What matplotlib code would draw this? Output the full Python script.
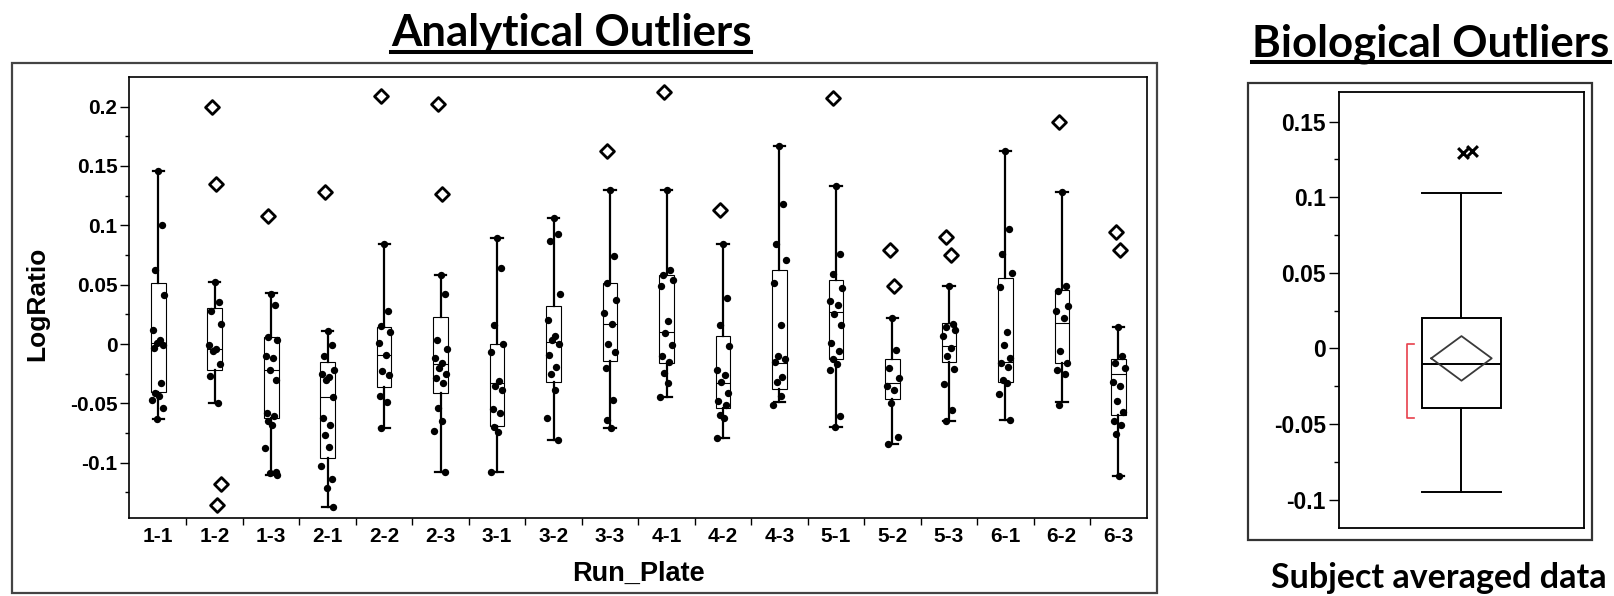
import matplotlib
matplotlib.use("Agg")
import matplotlib.pyplot as plt
import numpy as np
from matplotlib.lines import Line2D
from matplotlib.patches import Rectangle

# --- Analytical outliers: per Run_Plate box statistics (LogRatio) ---
RUN_PLATE = ["1-1", "1-2", "1-3", "2-1", "2-2", "2-3", "3-1", "3-2", "3-3",
             "4-1", "4-2", "4-3", "5-1", "5-2", "5-3", "6-1", "6-2", "6-3"]
Q1 = [-0.040, -0.022, -0.0625, -0.096, -0.036, -0.0416, -0.069, -0.032, -0.014,
      -0.016, -0.054, -0.038, -0.0125, -0.0465, -0.0154, -0.032, -0.016, -0.060]
MEDIAN = [0.001, -0.004, -0.022, -0.045, -0.009, -0.017, -0.033, 0.002, 0.017,
          0.010, -0.033, -0.016, 0.027, -0.033, -0.0015, -0.015, 0.018, -0.025]
Q3 = [0.051, 0.030, 0.006, -0.015, 0.0145, 0.023, 0.000, 0.032, 0.051,
      0.058, 0.007, 0.0625, 0.054, -0.0125, 0.018, 0.056, 0.0456, -0.013]
WHISK_LO = [-0.063, -0.050, -0.110, -0.137, -0.071, -0.108, -0.108, -0.081, -0.071,
            -0.045, -0.079, -0.049, -0.070, -0.084, -0.065, -0.064, -0.049, -0.111]
WHISK_HI = [0.146, 0.052, 0.043, 0.011, 0.084, 0.058, 0.089, 0.106, 0.130,
            0.130, 0.084, 0.167, 0.133, 0.022, 0.049, 0.163, 0.128, 0.0145]

POINTS = [
    [0.146, 0.100, 0.062, 0.041, 0.012, 0.003, 0.001, -0.001, -0.003, -0.033,
     -0.041, -0.044, -0.047, -0.054, -0.063],
    [0.052, 0.035, 0.028, 0.017, -0.001, -0.004, -0.006, -0.017, -0.027, -0.050],
    [0.042, 0.033, 0.006, 0.003, -0.010, -0.012, -0.022, -0.030, -0.058, -0.061,
     -0.065, -0.068, -0.088, -0.108, -0.109, -0.110],
    [0.011, -0.001, -0.010, -0.022, -0.025, -0.028, -0.030, -0.045, -0.0625, -0.068,
     -0.077, -0.087, -0.103, -0.114, -0.121, -0.137],
    [0.084, 0.028, 0.015, 0.010, 0.001, -0.009, -0.023, -0.026, -0.044, -0.049, -0.071],
    [0.058, 0.042, 0.003, -0.004, -0.012, -0.016, -0.020, -0.025, -0.029, -0.033,
     -0.054, -0.065, -0.073, -0.108],
    [0.089, 0.064, 0.016, 0.000, -0.007, -0.031, -0.035, -0.039, -0.055, -0.058,
     -0.070, -0.074, -0.108],
    [0.106, 0.093, 0.087, 0.042, 0.020, 0.007, 0.003, 0.000, -0.009, -0.019,
     -0.025, -0.039, -0.062, -0.081],
    [0.130, 0.074, 0.051, 0.037, 0.026, 0.017, 0.000, -0.007, -0.020, -0.047,
     -0.064, -0.071],
    [0.130, 0.0625, 0.058, 0.054, 0.049, 0.019, 0.009, -0.001, -0.010, -0.015,
     -0.024, -0.033, -0.045],
    [0.084, 0.039, 0.016, -0.002, -0.022, -0.026, -0.032, -0.041, -0.048, -0.051,
     -0.060, -0.0625, -0.079],
    [0.167, 0.118, 0.084, 0.071, 0.051, 0.016, -0.010, -0.013, -0.015, -0.028,
     -0.032, -0.044, -0.051],
    [0.133, 0.076, 0.059, 0.047, 0.036, 0.033, 0.025, 0.016, 0.001, -0.006,
     -0.013, -0.017, -0.022, -0.061, -0.070],
    [0.022, -0.005, -0.020, -0.029, -0.035, -0.039, -0.050, -0.078, -0.084],
    [0.049, 0.017, 0.0145, 0.012, 0.007, -0.003, -0.010, -0.021, -0.034, -0.056, -0.065],
    [0.163, 0.0965, 0.0756, 0.060, 0.048, 0.010, -0.001, -0.012, -0.016, -0.019,
     -0.030, -0.033, -0.042, -0.064],
    [0.128, 0.049, 0.045, 0.032, 0.028, 0.022, -0.006, -0.016, -0.022, -0.025, -0.051],
    [0.0145, -0.010, -0.016, -0.020, -0.032, -0.035, -0.048, -0.057, -0.065, -0.068,
     -0.076, -0.111],
]
OUTLIERS = [
    [], [0.200, 0.135, -0.118, -0.136], [0.108], [0.128], [0.209], [0.202, 0.126],
    [], [], [0.163], [0.212], [0.1125], [], [0.207], [0.079, 0.0485], [0.090, 0.075],
    [], [0.187], [0.0945, 0.079],
]

# --- Biological outliers: subject averaged data ---
BIO_Q1, BIO_MEDIAN, BIO_Q3 = -0.0393, -0.0104, 0.0198
BIO_WHISK_LO, BIO_WHISK_HI = -0.0948, 0.1025
BIO_MEAN, BIO_CI_LO, BIO_CI_HI = -0.0066, -0.0214, 0.0081
BIO_SHORTEST_HALF = [-0.0463, 0.0026]
BIO_OUTLIERS = [0.129, 0.1305]

# jitter pattern (x offsets in category units), purely cosmetic
JITTER = [0.0, 0.07, -0.06, 0.11, -0.1, 0.03, -0.03, 0.09, -0.08, 0.05,
          -0.05, 0.02, -0.11, 0.08, -0.02, 0.1]
OUT_JITTER = [-0.05, 0.03, 0.12, 0.04]
BIO_OUT_JITTER = [0.015, 0.088]

TICK_FONT = ["Liberation Sans", "DejaVu Sans"]
TITLE_FONT = ["Lato", "DejaVu Sans"]

fig = plt.figure(figsize=(16.14, 5.96), dpi=100)

# outer frames
fig.patches.append(Rectangle((0.0073, 0.0055), 0.7094, 0.8888, transform=fig.transFigure,
                             fill=False, edgecolor="#444444", linewidth=1.6))
fig.patches.append(Rectangle((0.7732, 0.0940), 0.2131, 0.7673, transform=fig.transFigure,
                             fill=False, edgecolor="#333333", linewidth=1.6))

# ---------------- left panel ----------------
ax = fig.add_axes([0.0802, 0.1314, 0.6302, 0.7399])
stats = [
    dict(label=lab, q1=a, med=m, q3=b, whislo=lo, whishi=hi, fliers=[])
    for lab, a, m, b, lo, hi in zip(RUN_PLATE, Q1, MEDIAN, Q3, WHISK_LO, WHISK_HI)
]
x = np.arange(len(RUN_PLATE))
ax.bxp(stats, positions=x, widths=0.26, capwidths=0.2, showfliers=False,
       patch_artist=True,
       boxprops=dict(facecolor="white", edgecolor="black", linewidth=0.8),
       whiskerprops=dict(color="black", linewidth=1.6),
       capprops=dict(color="black", linewidth=1.6),
       medianprops=dict(color="black", linewidth=0.8))

for i, pts in enumerate(POINTS):
    offs = [JITTER[k % len(JITTER)] for k in range(len(pts))]
    ax.scatter(x[i] + np.array(offs), pts, s=28, color="black", zorder=4, linewidths=0)
for i, outs in enumerate(OUTLIERS):
    if not outs:
        continue
    offs = [OUT_JITTER[k % len(OUT_JITTER)] for k in range(len(outs))]
    ax.scatter(x[i] + np.array(offs), outs, marker="D", s=50, facecolors="white",
               edgecolors="black", linewidths=2.0, zorder=5)

ax.set_xlim(-0.51, 17.5)
ax.set_ylim(-0.1463, 0.2252)
yt = [-0.1, -0.05, 0, 0.05, 0.1, 0.15, 0.2]
ax.set_yticks(yt, ["-0.1", "-0.05", "0", "0.05", "0.1", "0.15", "0.2"])
ax.set_yticks(np.arange(-0.125, 0.2, 0.05), minor=True)
ax.set_xticks(np.arange(0.5, 17, 1), [""] * 17)
ax.set_xticks(x, RUN_PLATE, minor=True)
ax.tick_params(axis="y", which="major", length=6.2, width=1.0, pad=2.4, labelsize=15)
ax.tick_params(axis="y", which="minor", length=3, width=1.0)
ax.tick_params(axis="x", which="major", length=5, width=1.0)
ax.tick_params(axis="x", which="minor", length=0, pad=7, labelsize=15)
for lab in ax.get_xticklabels(minor=True) + ax.get_yticklabels():
    lab.set_fontfamily(TICK_FONT)
    lab.set_fontweight("bold")
for sp in ax.spines.values():
    sp.set_linewidth(1.2)

fig.text(37 / 1614, 0.4904, "LogRatio", rotation=90, ha="center", va="center",
         fontsize=19, fontweight="bold", family=TICK_FONT)
fig.text(638 / 1614, 1 - 581 / 596, "Run_Plate", ha="center", va="baseline",
         fontsize=19.5, fontweight="bold", family=TICK_FONT)

# ---------------- right panel ----------------
ax2 = fig.add_axes([0.8296, 0.1136, 0.1518, 0.7315])
ax2.bxp([dict(q1=BIO_Q1, med=BIO_MEDIAN, q3=BIO_Q3, whislo=BIO_WHISK_LO,
              whishi=BIO_WHISK_HI, fliers=[])],
        positions=[0], widths=0.645, capwidths=0.645, showfliers=False,
        patch_artist=True,
        boxprops=dict(facecolor="white", edgecolor="black", linewidth=1.4),
        whiskerprops=dict(color="black", linewidth=1.4),
        capprops=dict(color="black", linewidth=1.4),
        medianprops=dict(color="black", linewidth=1.4))
dw = 0.247
ax2.plot([-dw, 0, dw, 0, -dw], [BIO_MEAN, BIO_CI_HI, BIO_MEAN, BIO_CI_LO, BIO_MEAN],
         color="#3a3a3a", linewidth=1.3, zorder=4)
bx, serif = -0.442, 0.055
lo, hi = BIO_SHORTEST_HALF
ax2.plot([bx + serif, bx, bx, bx + serif], [hi, hi, lo, lo], color="#e8404c",
         linewidth=1.2, zorder=4)
ax2.scatter(BIO_OUT_JITTER, BIO_OUTLIERS, marker="x", s=60, color="black",
            linewidths=2.2, zorder=5)
ax2.set_xlim(-1, 1)
ax2.set_ylim(-0.119, 0.1693)
ax2.set_xticks([])
ax2.set_yticks([-0.1, -0.05, 0, 0.05, 0.1, 0.15],
               ["-0.1", "-0.05", "0", "0.05", "0.1", "0.15"])
ax2.set_yticks(np.arange(-0.075, 0.15, 0.05), minor=True)
ax2.tick_params(axis="y", which="major", length=7, width=1.0, pad=2.5, labelsize=16.5)
ax2.tick_params(axis="y", which="minor", length=3.5, width=1.0)
for lab in ax2.get_yticklabels():
    lab.set_fontfamily(TICK_FONT)
    lab.set_fontweight("bold")
for sp in ax2.spines.values():
    sp.set_linewidth(1.3)

# ---------------- titles ----------------
t1 = fig.text(571 / 1614, 1 - 46 / 596, "Analytical Outliers", ha="center",
              va="baseline", fontsize=31.5, fontweight="bold", family=TITLE_FONT)
t2 = fig.text(1431 / 1614, 1 - 56 / 596, "Biological Outliers", ha="center",
              va="baseline", fontsize=31.5, fontweight="bold", family=TITLE_FONT)
fig.text(1439 / 1614, 1 - 588 / 596, "Subject averaged data", ha="center",
         va="baseline", fontsize=24.5, fontweight="bold", family=TITLE_FONT)

renderer = fig.canvas.get_renderer()
for t, ypx in ((t1, 52), (t2, 61.5)):
    bb = t.get_window_extent(renderer).transformed(fig.transFigure.inverted())
    fig.lines.append(Line2D([bb.x0, bb.x1], [1 - ypx / 596] * 2, transform=fig.transFigure,
                            color="black", linewidth=2.9))

fig.savefig("out.png", dpi=100)
